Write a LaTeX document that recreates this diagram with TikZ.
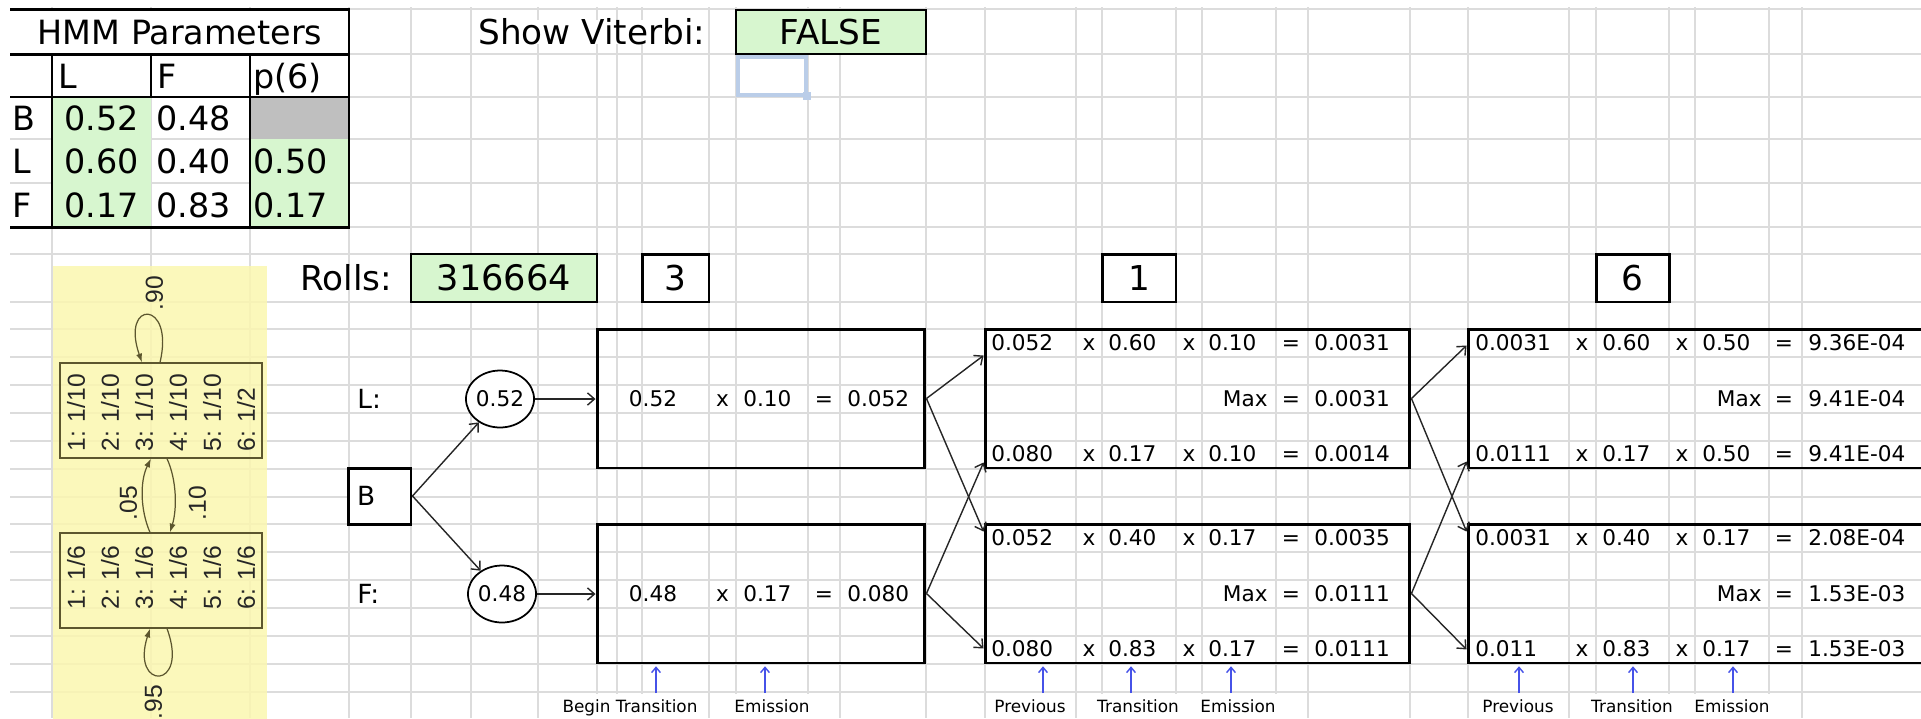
\documentclass[tikz,border=0pt]{standalone}
\usepackage{fontspec}
\setmainfont{DejaVu Sans}
\newfontfamily\notefont{Liberation Sans}
\usetikzlibrary{arrows.meta,calc,shapes.geometric,positioning}

\definecolor{cellgreen}{RGB}{215,246,207}
\definecolor{gridgray}{RGB}{220,220,220}
\definecolor{notepad}{RGB}{251,247,176}
\definecolor{noteline}{RGB}{92,86,46}
\definecolor{selblue}{RGB}{186,205,232}
\definecolor{hintblue}{RGB}{70,82,232}

% one line of a trellis cell: previous x transition x emission = product
\newcommand{\prodrow}[6]{%
  \node[celltext, anchor=west] (#1p) at (\colPrev,#2) {#3};
  \node[celltext] (#1x) at (\colTimesA,#2) {x};
  \node[celltext, anchor=west] (#1t) at (\colTrans,#2) {#4};
  \node[celltext] (#1y) at (\colTimesB,#2) {x};
  \node[celltext, anchor=west] (#1e) at (\colEmit,#2) {#5};
  \node[celltext] (#1q) at (\colEq,#2) {=};
  \node[celltext, anchor=west] (#1r) at (\colRes,#2) {#6};
}
% the max line in the middle of a cell
\newcommand{\maxrow}[3]{%
  \node[celltext, anchor=east] (#1m) at (\colMax,#2) {Max};
  \node[celltext] (#1q) at (\colEq,#2) {=};
  \node[celltext, anchor=west] (#1r) at (\colRes,#2) {#3};
}

\begin{document}
\begin{tikzpicture}[
  x=0.02cm, y=-0.02cm,
  gridline/.style={draw=gridgray, line width=0.75pt},
  bigtext/.style={font=\fontsize{19.5}{22}\selectfont, inner sep=0pt, text height=14.2pt, text depth=0pt},
  tabtext/.style={font=\fontsize{19}{22}\selectfont, inner sep=0pt, anchor=west, text height=13.9pt, text depth=0pt},
  celltext/.style={font=\fontsize{12.3}{14}\selectfont, inner sep=0pt, text height=9pt, text depth=0pt},
  rowlabel/.style={font=\fontsize{15}{17}\selectfont, inner sep=0pt, anchor=west, text height=11pt, text depth=0pt},
  inputbox/.style={draw, line width=0.8pt, fill=cellgreen, inner sep=0pt, font=\fontsize{19.5}{22}\selectfont, text height=14.2pt, text depth=0pt},
  obsbox/.style={draw, line width=1.7pt, fill=white, inner sep=0pt, minimum height=0.96cm, font=\fontsize{19.5}{22}\selectfont, text height=14.2pt, text depth=0pt},
  startstate/.style={draw, ellipse, line width=1pt, fill=white, inner sep=0pt, minimum width=1.34cm, minimum height=1.14cm, font=\fontsize{12.3}{14}\selectfont},
  trellisbox/.style={draw, line width=1.7pt, minimum height=2.78cm},
  flow/.style={draw=black!85, line width=0.8pt, -{Straight Barb[length=4pt,width=7pt]}},
  hint/.style={font=\fontsize{9.6}{11}\selectfont, fill=white, inner xsep=1pt, inner ysep=0pt, minimum height=0.48cm, text height=7pt, text depth=0pt},
  hintarrow/.style={draw=hintblue, line width=0.8pt, shorten >=1pt, -{Straight Barb[length=3pt,width=5pt]}},
  notebox/.style={draw=noteline, line width=0.7pt, minimum width=4.04cm, minimum height=1.9cm},
  notetext/.style={font=\notefont\fontsize{14}{16}\selectfont, text=black!85, inner sep=0pt, text height=10pt, text depth=0pt, rotate=90},
  noteflow/.style={draw=noteline, line width=0.7pt, -{Latex[length=5pt,width=3.5pt]}},
]
\useasboundingbox (0,0) rectangle (1921,718);
\clip (0,0) rectangle (1921,718);
\fill[white] (0,0) rectangle (1921,718);

% sheet grid
\foreach \gx in {52,151,250,349,411,471,538,597,617,642,709,736,808,840,926,985,1076,1102,1176,1202,1276,1308,1410,1468,1569,1596,1669,1695,1769,1802}
  \draw[gridline] (\gx,7) -- (\gx,718);
\foreach \gy in {9,54,97,139,183,227,254,302,329,357,385,413,441,469,497,524,552,580,608,636,664,692}
  \draw[gridline] (10,\gy) -- (1921,\gy);

% parameter table
\fill[white] (10,10) rectangle (348,53);
\fill[cellgreen] (52,97) rectangle (151,227);
\fill[cellgreen] (250,139) rectangle (349,227);
\fill[black!25] (250,97) rectangle (349,139);
\draw[line width=0.85pt] (10,97) -- (349,97) (52,54) -- (52,227) (151,54) -- (151,97) (250,54) -- (250,227);
\draw[line width=1.7pt] (10,9) -- (349,9) -- (349,227) -- (10,227) (10,54) -- (349,54);
\node[tabtext, anchor=center] (title) at (180,32) {HMM Parameters};
\node[tabtext] (headL) at (58,76) {L};
\node[tabtext] (headF) at (157,76) {F};
\node[tabtext] (headP) at (253,76) {p(6)};
\foreach \st/\yy/\va/\vb in {B/118/0.52/0.48, L/161/0.60/0.40, F/205/0.17/0.83} {
  \node[tabtext] (row\st) at (12,\yy) {\st};
  \node[tabtext] (row\st-L) at (64,\yy) {\va};
  \node[tabtext] (row\st-F) at (156,\yy) {\vb};
}
\node[tabtext] (rowL-P) at (253,161) {0.50};
\node[tabtext] (rowF-P) at (253,205) {0.17};

% viterbi switch
\node[bigtext, anchor=west, fill=white] (showlbl) at (478,32) {Show Viterbi:};
\node[inputbox, minimum width=3.8cm, minimum height=0.88cm] (showval) at (831,32) {FALSE};
\draw[selblue, line width=2.2pt] (738,57) rectangle (806,95);
\fill[selblue] (803,92) rectangle (811,100);

% state diagram note
\fill[notepad, fill opacity=0.85] (53,266) rectangle (267,720);
\node[notebox] (emitL) at (161,410.5) {};
\node[notebox] (emitF) at (161,580.5) {};
\foreach \k in {1,...,5}
  \node[notetext, anchor=west] (pL\k) at (42+34*\k,452) {\k: 1/10};
\node[notetext, anchor=west] (pL6) at (246,452) {6: 1/2};
\foreach \k in {1,...,6}
  \node[notetext, anchor=west] (pF\k) at (42+34*\k,610) {\k: 1/6};
\draw[noteflow] ($(emitL.north)+(-1,0)$) .. controls +(15,-63) and +(-22,-63) .. ($(emitL.north)+(-19,0)$);
\draw[noteflow] ($(emitF.north)+(-11,0)$) .. controls +(-10,-23) and +(-11,22) .. ($(emitL.south)+(-10,0)$);
\draw[noteflow] ($(emitL.south)+(6,0)$) .. controls +(10,22) and +(7,-23) .. ($(emitF.north)+(9,0)$);
\draw[noteflow] ($(emitF.south)+(6,0)$) .. controls +(23,62) and +(-20,62) .. ($(emitF.south)+(-11,0)$);
\node[notetext] (stayL) at (154,293) {.90};
\node[notetext] (toL) at (128,503) {.05};
\node[notetext] (toF) at (197,503) {.10};
\node[notetext] (stayF) at (153,702) {.95};

% rolls and observed faces
\node[bigtext, anchor=west, fill=white] (rollslbl) at (300,278) {Rolls:};
\node[inputbox, minimum width=3.72cm, minimum height=0.96cm, font=\fontsize{20}{22}\selectfont] (rolls) at (504,278) {316664};
\node[obsbox, minimum width=1.34cm] (obs1) at (675.5,278) {3};
\node[obsbox, minimum width=1.48cm] (obs2) at (1139,278) {1};
\node[obsbox, minimum width=1.46cm] (obs3) at (1632.5,278) {6};

% begin state
\node[rowlabel] (lblL) at (357,399) {L:};
\node[rowlabel] (lblF) at (357,594) {F:};
\node[draw, line width=1.7pt, fill=white, text width=0.9cm, inner xsep=0.18cm, inner ysep=0pt, minimum height=1.12cm, font=\fontsize{15}{17}\selectfont, text height=11pt, text depth=0pt] (begin) at (379.5,496) {B};
\node[startstate] (cL) at (500,399) {0.52};
\node[startstate] (cF) at (502,594) {0.48};
\draw[flow] (begin.east) -- (cL);
\draw[flow] (begin.east) -- (cF);

% trellis cells
\node[trellisbox, minimum width=6.56cm] (l1) at (761,398.5) {};
\node[trellisbox, minimum width=6.56cm] (f1) at (761,593.5) {};
\node[trellisbox, minimum width=8.5cm] (l2) at (1197.5,398.5) {};
\node[trellisbox, minimum width=8.5cm] (f2) at (1197.5,593.5) {};
\node[trellisbox, minimum width=9.44cm] (l3) at (1704,398.5) {};
\node[trellisbox, minimum width=9.44cm] (f3) at (1704,593.5) {};

\foreach \st/\yy/\va/\vb/\vc in {l1/399/0.52/0.10/0.052, f1/594/0.48/0.17/0.080} {
  \node[celltext] (\st b) at (653,\yy) {\va};
  \node[celltext] (\st x) at (722.5,\yy) {x};
  \node[celltext, anchor=west] (\st e) at (743,\yy) {\vb};
  \node[celltext] (\st q) at (824,\yy) {=};
  \node[celltext, anchor=west] (\st r) at (847,\yy) {\vc};
}

\begin{scope}
  \def\colPrev{991}\def\colTimesA{1089}\def\colTrans{1108}\def\colTimesB{1189}
  \def\colEmit{1208}\def\colEq{1291}\def\colRes{1314}\def\colMax{1268}
  \prodrow{l2a}{343}{0.052}{0.60}{0.10}{0.0031}
  \maxrow{l2b}{399}{0.0031}
  \prodrow{l2c}{454}{0.080}{0.17}{0.10}{0.0014}
  \prodrow{f2a}{538}{0.052}{0.40}{0.17}{0.0035}
  \maxrow{f2b}{594}{0.0111}
  \prodrow{f2c}{649}{0.080}{0.83}{0.17}{0.0111}
\end{scope}
\begin{scope}
  \def\colPrev{1475}\def\colTimesA{1582}\def\colTrans{1602}\def\colTimesB{1682}
  \def\colEmit{1702}\def\colEq{1784}\def\colRes{1808}\def\colMax{1762}
  \prodrow{l3a}{343}{0.0031}{0.60}{0.50}{9.36E-04}
  \maxrow{l3b}{399}{9.41E-04}
  \prodrow{l3c}{454}{0.0111}{0.17}{0.50}{9.41E-04}
  \prodrow{f3a}{538}{0.0031}{0.40}{0.17}{2.08E-04}
  \maxrow{f3b}{594}{1.53E-03}
  \prodrow{f3c}{649}{0.011}{0.83}{0.17}{1.53E-03}
\end{scope}

% transitions between the columns
\draw[flow] (cL.east) -- (l1.west |- cL.east);
\draw[flow] (cF.east) -- (f1.west |- cF.east);
\draw[flow] (l1.east) -- ($(l2.north west)+(0,28)$);
\draw[flow] (f1.east) -- ($(l2.south west)+(0,-7)$);
\draw[flow] (l1.east) -- ($(f2.north west)+(0,9)$);
\draw[flow] (f1.east) -- ($(f2.south west)+(0,-16)$);
\draw[flow] (l2.east) -- ($(l3.north west)+(0,18)$);
\draw[flow] (f2.east) -- ($(l3.south west)+(0,-8)$);
\draw[flow] (l2.east) -- ($(f3.north west)+(0,9)$);
\draw[flow] (f2.east) -- ($(f3.south west)+(0,-15)$);

% hints under the cells
\foreach \nm/\ax/\lx/\txt/\bx in {hb1/656/630/Begin Transition/f1, he1/765/772/Emission/f1,
    hp2/1043/1030/Previous/f2, ht2/1131/1138/Transition/f2, he2/1231/1238/Emission/f2,
    hp3/1519/1518/Previous/f3, ht3/1633/1632/Transition/f3, he3/1733/1732/Emission/f3} {
  \node[hint] (\nm) at (\lx,706) {\txt};
  \coordinate (tip\nm) at (\ax,693);
  \draw[hintarrow] (tip\nm) -- (tip\nm |- \bx.south);
}
\end{tikzpicture}
\end{document}
